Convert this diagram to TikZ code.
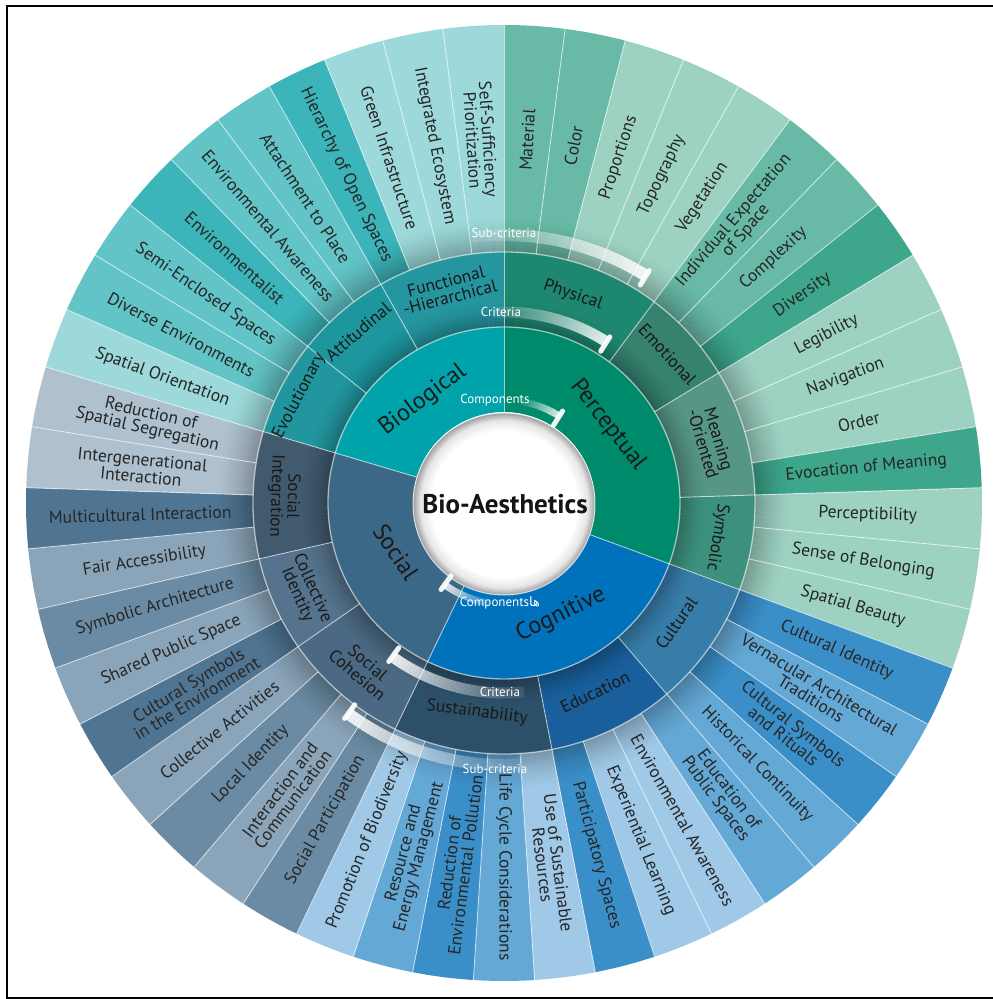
\documentclass[tikz,border=0pt]{standalone}
\usepackage{fontspec}
\setmainfont{PT Sans}
\newfontfamily\arabicfont[Script=Arabic]{DejaVu Sans}
\TeXXeTstate=1
\usetikzlibrary{calc}

% sub-criteria shades
\definecolor{tL}{HTML}{9DD9DA}
\definecolor{tM}{HTML}{62C4C7}
\definecolor{tD}{HTML}{3CB5BA}
\definecolor{gL}{HTML}{9DD2C3}
\definecolor{gM}{HTML}{68BAA7}
\definecolor{gD}{HTML}{3DA68B}
\definecolor{bL}{HTML}{9FC9E6}
\definecolor{bM}{HTML}{64A8D6}
\definecolor{bD}{HTML}{3B8FC8}
\definecolor{sL}{HTML}{AFC0CE}
\definecolor{sLM}{HTML}{8AA5B9}
\definecolor{sM}{HTML}{6A8BA3}
\definecolor{sD}{HTML}{4F7593}
% criteria
\definecolor{cFun}{HTML}{2596A0}
\definecolor{cAtt}{HTML}{1D969E}
\definecolor{cEvo}{HTML}{22969E}
\definecolor{cPhy}{HTML}{1E8770}
\definecolor{cEmo}{HTML}{36826F}
\definecolor{cMea}{HTML}{569687}
\definecolor{cSym}{HTML}{3C917D}
\definecolor{cCul}{HTML}{377DAA}
\definecolor{cEdu}{HTML}{195F9B}
\definecolor{cSus}{HTML}{2D5069}
\definecolor{cCoh}{HTML}{4B6982}
\definecolor{cCol}{HTML}{55738C}
\definecolor{cInt}{HTML}{415A6E}
% components
\definecolor{pBio}{HTML}{00A3AA}
\definecolor{pPer}{HTML}{008A6C}
\definecolor{pCog}{HTML}{0071BB}
\definecolor{pSoc}{HTML}{3C6887}

\pgfdeclareradialshading{wshadow}{\pgfpoint{0bp}{0bp}}{color(0bp)=(white); color(20bp)=(white); color(23bp)=(black!10); color(25bp)=(black!38); color(50bp)=(black!38)}

\newcommand{\rsec}[5]{\fill[fill=#1] (#2:#4pt) arc[start angle=#2, end angle=#3, radius=#4pt] -- (#3:#5pt) arc[start angle=#3, end angle=#2, radius=#5pt] -- cycle;}

\newcommand{\garc}[4]{%
  \foreach \q in {0,...,39}{%
    \pgfmathsetmacro{\ga}{#2+(#3-#2)*\q/40}%
    \pgfmathsetmacro{\gb}{#2+(#3-#2)*(\q+1)/40}%
    \pgfmathsetmacro{\go}{0.1+0.8*(\q/39)^1.2}%
    \draw[white, line width=#4pt, opacity=\go] (\ga:#1pt) arc[start angle=\ga, end angle=\gb, radius=#1pt];
  }%
  \pgfmathsetmacro{\gri}{#1-11}%
  \pgfmathsetmacro{\gro}{#1+6}%
  \draw[white, line width=5pt, line cap=round, opacity=0.92] (#3:\gri pt) -- (#3:\gro pt);
}

\tikzset{
  subtext/.style={font=\fontsize{17.5}{16}\selectfont, text=black!85, align=center, inner sep=0pt},
  crittext/.style={font=\fontsize{17.5}{16.5}\selectfont, text=black!90, align=center, inner sep=0pt},
  comptext/.style={font=\fontsize{24}{26}\selectfont, text=black!90, inner sep=0pt},
  labeltext/.style={font=\fontsize{13}{14}\selectfont, text=white, inner sep=0pt},
  sepline/.style={white, opacity=0.6, line width=0.9pt},
  ringline/.style={white, opacity=0.55, line width=1.3pt},
}

\def\sublist{0/gM/Material, 1/gM/Color, 2/gL/Proportions, 3/gL/Topography, 4/gL/Vegetation,
 5/gM/{Individual Expectation\\of Space}, 6/gM/Complexity, 7/gD/Diversity, 8/gL/Legibility,
 9/gL/Navigation, 10/gL/Order, 11/gD/{Evocation of Meaning}, 12/gL/Perceptibility,
 13/gL/{Sense of Belonging}, 14/gL/{Spatial Beauty}, 15/bD/{Cultural Identity},
 16/bM/{Vernacular Architectural\\Traditions}, 17/bD/{Cultural Symbols\\and Rituals},
 18/bM/{Historical Continuity}, 19/bM/{Education of\\Public Spaces}, 20/bL/{Environmental Awareness},
 21/bL/{Experiential Learning}, 22/bD/{Participatory Spaces}, 23/bL/{Use of Sustainable\\Resources},
 24/bM/{Life Cycle Considerations}, 25/bD/{Reduction of\\Environmental Pollution},
 26/bM/{Resource and\\Energy Management}, 27/bL/{Promotion of Biodiversity},
 28/sM/{Social Participation}, 29/sLM/{Interaction and\\Communication}, 30/sM/{Local Identity},
 31/sLM/{Collective Activities}, 32/sD/{Cultural Symbols\\in the Environment},
 33/sLM/{Shared Public Space}, 34/sM/{Symbolic Architecture}, 35/sLM/{Fair Accessibility},
 36/sD/{Multicultural Interaction}, 37/sL/{Intergenerational\\Interaction},
 38/sL/{Reduction of\\Spatial Segregation}, 39/tL/{Spatial Orientation}, 40/tM/{Diverse Environments},
 41/tM/{Semi-Enclosed Spaces}, 42/tD/Environmentalist, 43/tM/{Environmental Awareness},
 44/tM/{Attachment to Place}, 45/tD/{Hierarchy of Open Spaces}, 46/tL/{Green Infrastructure},
 47/tL/{Integrated Ecosystem}, 48/tL/{Self-Sufficiency\\Prioritization}}

\def\critlist{0/5/cPhy/Physical/219, 5/8/cEmo/Emotional/221, 8/12/cMea/{Meaning\\-Oriented}/216,
 12/15/cSym/Symbolic/216, 15/19/cCul/Cultural/210, 19/23/cEdu/Education/210, 23/28/cSus/Sustainability/211,
 28/32/cCoh/{Social\\Cohesion}/218, 32/35/cCol/{Collective\\Identity}/218, 35/39/cInt/{Social\\Integration}/220,
 39/42/cEvo/Evolutionary/231, 42/45/cAtt/Attitudinal/225, 45/49/cFun/{Functional\\-Hierarchical}/221}

\begin{document}
\begin{tikzpicture}[x=1pt,y=1pt]
\useasboundingbox (-504,-496) rectangle (489,503);
\fill[white] (-504,-496) rectangle (489,503);
\draw[line width=2pt] (495,496.5) -- (-496.5,496.5) -- (-496.5,-494.5) -- (495,-494.5);

\pgfmathsetmacro{\dd}{360/49}

% sub-criteria sectors
\foreach \k/\col/\txt in \sublist {
  \pgfmathsetmacro{\aa}{90-\k*\dd}
  \pgfmathsetmacro{\ab}{90-(\k+1)*\dd}
  \rsec{\col}{\aa}{\ab}{251}{478}
}
% criteria sectors
\foreach \ka/\kb/\col/\txt/\tr in \critlist {
  \pgfmathsetmacro{\aa}{90-\ka*\dd}
  \pgfmathsetmacro{\ab}{90-\kb*\dd}
  \rsec{\col}{\aa}{\ab}{176}{251}
}
% component sectors
\foreach \ka/\kb/\col in {0/15/pPer, 15/28/pCog, 28/39/pSoc, 39/49/pBio} {
  \pgfmathsetmacro{\aa}{90-\ka*\dd}
  \pgfmathsetmacro{\ab}{90-\kb*\dd}
  \rsec{\col}{\aa}{\ab}{91}{176}
}

% inner shadows of the rings
\foreach \j in {0,...,17} {
  \pgfmathsetmacro{\op}{0.24*(1-\j/18)^1.5}
  \pgfmathsetmacro{\rad}{252+2*\j}
  \draw[black, opacity=\op, line width=2.05pt] (0,0) circle[radius=\rad pt];
}
\foreach \j in {0,...,12} {
  \pgfmathsetmacro{\op}{0.24*(1-\j/13)^1.5}
  \pgfmathsetmacro{\rad}{177+2*\j}
  \draw[black, opacity=\op, line width=2.05pt] (0,0) circle[radius=\rad pt];
}

% separators
\foreach \k in {0,...,48} {
  \pgfmathsetmacro{\aa}{90-\k*\dd}
  \draw[sepline] (\aa:251pt) -- (\aa:478pt);
}
\foreach \k in {0,5,8,12,15,19,23,28,32,35,39,42,45} {
  \pgfmathsetmacro{\aa}{90-\k*\dd}
  \draw[sepline] (\aa:176pt) -- (\aa:251pt);
}
\foreach \k in {0,15,28,39} {
  \pgfmathsetmacro{\aa}{90-\k*\dd}
  \draw[sepline] (\aa:91pt) -- (\aa:176pt);
}
\draw[ringline] (0,0) circle[radius=176pt];
\draw[ringline] (0,0) circle[radius=251pt];

% centre
\shade[shading=wshadow] (0,-1) circle[radius=91pt];
\draw[white, opacity=0.7, line width=1pt] (0,-1) circle[radius=91pt];
\node[font=\fontsize{27}{29}\selectfont\bfseries, text=black!92, inner sep=0pt] (center) at (1,-1) {Bio-Aesthetics};

% sub-criteria texts
\foreach \k/\col/\txt in \sublist {
  \pgfmathsetmacro{\mm}{90-(\k+0.5)*\dd}
  \pgfmathsetmacro{\rr}{\mm+180*(\k>24)}
  \node[subtext, rotate=\rr] (s\k) at (\mm:364pt) {\txt};
}
% criteria texts
\foreach \ka/\kb/\col/\txt/\tr in \critlist {
  \pgfmathsetmacro{\mm}{90-(\ka+\kb)/2*\dd}
  \pgfmathsetmacro{\rr}{\mm-90+180*(\ka>14)*(\ka<36)}
  \node[crittext, rotate=\rr] (c\ka) at (\mm:\tr pt) {\txt};
}
% component texts
\node[comptext, rotate=37] (bio) at (-81,103) {Biological};
\node[comptext, rotate=-52] (per) at (104,78) {Perceptual};
\node[comptext, rotate=26] (cog) at (57,-112) {Cognitive};
\node[comptext, rotate=-56] (soc) at (-108,-49) {Social};

% level arrows
\garc{268}{97}{58}{12}
\garc{191}{93}{57.5}{11}
\garc{103}{80}{57.5}{7}
\garc{101}{262}{234}{7}
\garc{190}{276}{234}{11}
\garc{262}{274}{233.5}{12}

% level labels
\node[labeltext] (lsub1) at (0,270) {Sub-criteria};
\node[labeltext] (lcri1) at (-3,191) {Criteria};
\node[labeltext] (lcom1) at (-9,103) {Components};
\node[labeltext] (lcom2) at (-4,-100) {Components{\arabicfont\beginR ها\endR}};
\node[labeltext] (lcri2) at (-4,-189) {Criteria};
\node[labeltext] (lsub2) at (-9,-266) {Sub-criteria};
\end{tikzpicture}
\end{document}
